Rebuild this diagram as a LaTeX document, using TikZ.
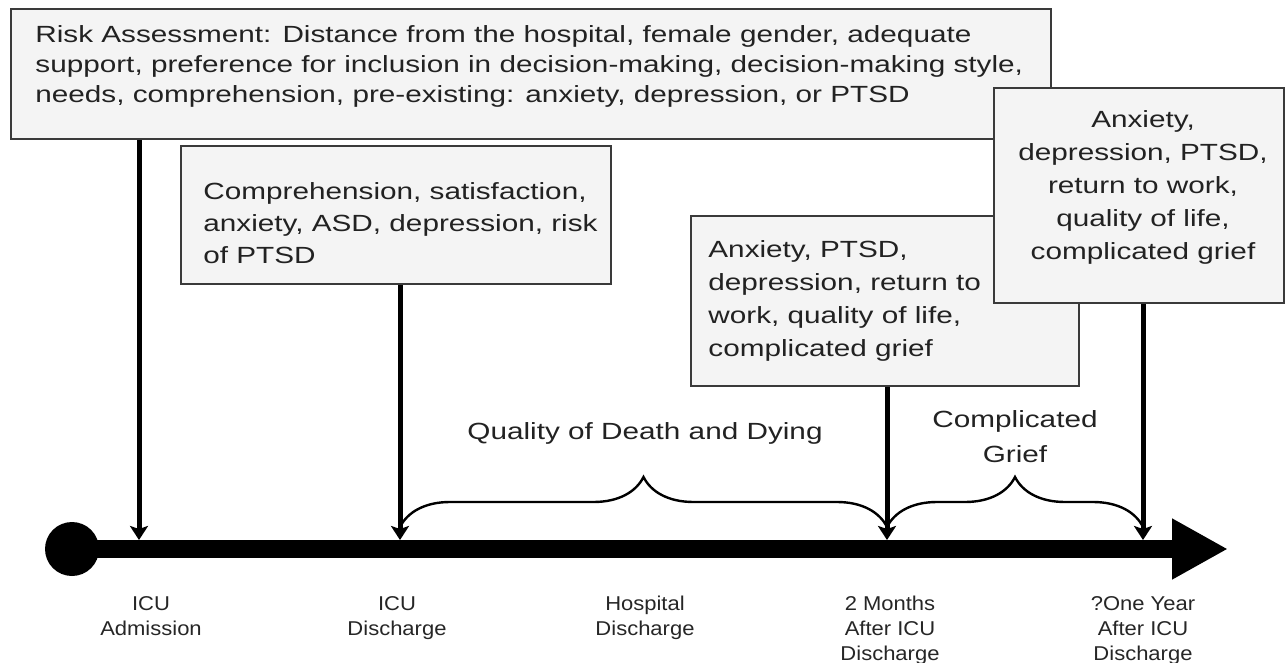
\documentclass[tikz,border=0pt]{standalone}
\usepackage{fontspec}
\setmainfont{Liberation Sans}[FakeStretch=1.27]
\newfontfamily\axisfont{Liberation Sans}[FakeStretch=1.1]
\usetikzlibrary{arrows.meta,decorations.pathreplacing}
\definecolor{boxfill}{HTML}{F4F4F4}
\definecolor{boxline}{HTML}{3A3A3A}
\definecolor{inkdark}{HTML}{222222}

\begin{document}
\begin{tikzpicture}[x=0.5pt,y=-0.5pt,
  infobox/.style={draw=boxline, fill=boxfill, line width=1pt, anchor=north west, inner sep=0pt},
  infotext/.style={font=\fontsize{11.7}{#1}\selectfont\color{inkdark}, inner sep=0pt, align=left, anchor=north west},
  infotext/.default=16,
  axislabel/.style={font=\axisfont\fontsize{10}{12.5}\selectfont\color{black!85}, inner sep=0pt, align=center, anchor=north},
  spanlabel/.style={font=\fontsize{11.7}{17.5}\selectfont\color{inkdark}, inner sep=0pt, align=center},
  tick/.style={line width=2.5pt, -{Stealth[length=7pt,width=9pt,inset=1.5pt]}},
  bracepath/.style={line width=1.2pt, decorate, decoration={brace, amplitude=25pt}},
]
\useasboundingbox (0,0) rectangle (1285,663);

% timeline
\node[circle, fill=black, minimum size=27pt, inner sep=0pt] (start) at (72,549) {};
\coordinate (tEnd) at (1228,549);
\draw[line width=9pt, -{Triangle[length=28pt,width=28.5pt]}] (start.center) -- (tEnd);
\coordinate (tAdm) at (139,540);
\coordinate (tIcu) at (400,540);
\coordinate (tTwo) at (887,540);
\coordinate (tYear) at (1143,540);

% boxes
\node[infobox, minimum width=520pt, minimum height=65pt] (risk) at (10,8) {};
\node[infotext=15] (risktxt) at (35,25) {Risk Assessment: Distance from the hospital, female gender, adequate\\
  support, preference for inclusion in decision-making, decision-making style,\\
  needs, comprehension, pre-existing: anxiety, depression, or PTSD};

\node[infobox, minimum width=215pt, minimum height=69pt] (comp) at (180,145) {};
\node[infotext] (comptxt) at (203,182) {Comprehension, satisfaction,\\anxiety, ASD, depression, risk\\of PTSD};

\node[infobox, minimum width=194pt, minimum height=85pt] (twomo) at (690,215) {};
\node[infotext=16.5] (twomotxt) at (708,240) {Anxiety, PTSD,\\depression, return to\\work, quality of life,\\complicated grief};

\node[infobox, minimum width=145pt, minimum height=107.5pt] (oneyr) at (993,87) {};
\node[infotext=16.5, align=center, anchor=north] (oneyrtxt) at (1143,110) {Anxiety,\\depression, PTSD,\\return to work,\\quality of life,\\complicated grief};

\draw[tick] (risk.south -| tAdm) -- (tAdm);
\draw[tick] (comp.south -| tIcu) -- (tIcu);
\draw[tick] (twomo.south -| tTwo) -- (tTwo);
\draw[tick] (oneyr.south -| tYear) -- (tYear);

% braces
\draw[bracepath] (400,527) -- (887,527);
\draw[bracepath] (887,527) -- (1143,527);
\node[spanlabel] (qdd) at (645,433) {Quality of Death and Dying};
\node[spanlabel] (grief) at (1015,437) {Complicated\\Grief};

\foreach \nm/\x/\txt in {adm/151/{ICU\\Admission}, icu/397/{ICU\\Discharge},
  hosp/645/{Hospital\\Discharge}, two/890/{2 Months\\After ICU\\Discharge},
  year/1143/{?One Year\\After ICU\\Discharge}}
  \node[axislabel] (lbl\nm) at (\x,596) {\txt};
\end{tikzpicture}
\end{document}
